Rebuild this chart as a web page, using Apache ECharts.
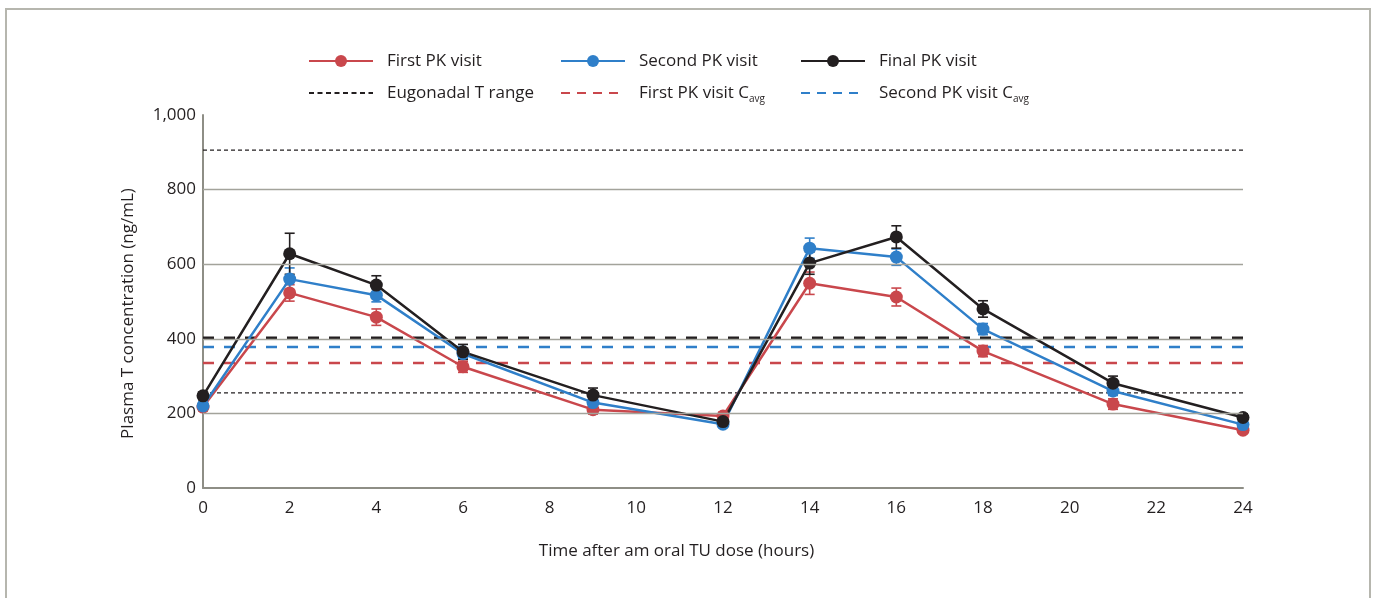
<!DOCTYPE html>
<html>
<head>
<meta charset="utf-8">
<script src="https://cdn.jsdelivr.net/npm/echarts@6/dist/echarts.min.js"></script>
<style>
html,body{margin:0;padding:0;background:#fff;}
#chart{width:1373px;height:598px;}
</style>
</head>
<body>
<div id="chart"></div>
<script>
// ---- data ----
var hours = [0, 2, 4, 6, 9, 12, 14, 16, 18, 21, 24];
var firstVisit  = [217, 523, 458, 325, 210, 193, 549, 512, 367, 225, 155];
var secondVisit = [220, 560, 517, 360, 229, 171, 643, 619, 426, 260, 170];
var finalVisit  = [247, 628, 544, 365, 249, 178, 603, 673, 480, 281, 189];
var firstErr  = [10, 22, 22, 15, 12, 10, 30, 24, 15, 14, 8];
var secondErr = [10, 30, 18, 12, 10, 8, 27, 22, 15, 12, 8];
var finalErr  = [10, 55, 25, 20, 19, 10, 30, 30, 22, 19, 10];
var eugonadalRange = [255, 906];
var firstCavg = 335;
var secondCavg = 378;
var finalCavg = 403;
var yTicks = [0, 200, 400, 600, 800, 1000];
var gridValues = [200, 400, 600, 800];

var RED = '#c9474c', BLUE = '#2f7fc9', BLACK = '#231f20';
var FONT = 'Open Sans';
var FS = 17;

function pts(vals){ return hours.map(function(h,i){ return [h, vals[i]]; }); }
function errPts(vals, errs){ return hours.map(function(h,i){ return [h, vals[i]-errs[i], vals[i]+errs[i]]; }); }
function hline(v){ return [[0, v], [24, v]]; }

function errSeries(name, vals, errs, color){
  return {
    type: 'custom', name: name + ' err', silent: true, z: 3,
    data: errPts(vals, errs),
    renderItem: function(params, api){
      var x = api.value(0);
      var lo = api.coord([x, api.value(1)]);
      var hi = api.coord([x, api.value(2)]);
      var w = 5;
      var st = {stroke: color, lineWidth: 1.6};
      return {type:'group', children:[
        {type:'line', shape:{x1:lo[0], y1:lo[1], x2:hi[0], y2:hi[1]}, style: st},
        {type:'line', shape:{x1:lo[0]-w, y1:lo[1], x2:lo[0]+w, y2:lo[1]}, style: st},
        {type:'line', shape:{x1:hi[0]-w, y1:hi[1], x2:hi[0]+w, y2:hi[1]}, style: st}
      ]};
    }
  };
}
function dataSeries(name, vals, color){
  return {
    type: 'line', name: name, data: pts(vals), z: 4,
    symbol: 'circle', symbolSize: 13,
    lineStyle: {color: color, width: 2.5},
    itemStyle: {color: color},
    emphasis: {disabled: true}
  };
}
function refSeries(name, v, color, width, dash){
  return {
    type: 'line', name: name, data: hline(v), z: 2, silent: true,
    symbol: 'none', showSymbol: false,
    lineStyle: {color: color, width: width, type: dash},
    itemStyle: {color: color},
    emphasis: {disabled: true}
  };
}

var legendText = {fontFamily: FONT, fontSize: FS, color: '#231f20', lineHeight: 18, padding: [0, 0, 0, 9],
  rich: {
    t: {fontFamily: FONT, fontSize: FS, color: '#231f20'},
    s: {fontFamily: FONT, fontSize: 10, color: '#231f20', padding: [12, 0, 0, 0]}
  }};
function fmt(name){
  if (name.indexOf('Cavg') >= 0) return '{t|' + name.replace('Cavg', 'C') + '}{s|avg}';
  return name;
}
function legendCol(left, names, dash){
  return {
    orient: 'vertical', left: left, top: 52, itemGap: 14,
    itemWidth: 64, itemHeight: 15, formatter: fmt,
    data: [names[0], {name: names[1], itemStyle: {opacity: 0}, lineStyle: {type: dash}}],
    textStyle: legendText, padding: 0, selectedMode: false
  };
}

var option = {
  backgroundColor: '#fff',
  animation: false,
  graphic: [{
    type: 'rect', shape: {x: 6, y: 9, width: 1364, height: 600},
    style: {fill: 'none', stroke: '#b6b6ae', lineWidth: 2}, silent: true
  }],
  legend: [
    legendCol(308, ['First PK visit', 'Eugonadal T range'], [5, 3.5]),
    legendCol(560, ['Second PK visit', 'First PK visit Cavg'], [9, 7]),
    legendCol(800, ['Final PK visit', 'Second PK visit Cavg'], [9, 7])
  ],
  grid: {left: 203, right: 130, top: 115, bottom: 110, containLabel: false},
  xAxis: {
    type: 'value', min: 0, max: 24, interval: 2,
    name: 'Time after am oral TU dose (hours)', nameLocation: 'middle', nameGap: 55,
    nameTextStyle: {fontFamily: FONT, fontSize: FS, color: '#231f20', padding: [0, 93, 0, 0]},
    axisLine: {lineStyle: {color: '#8e8e86', width: 2}},
    axisTick: {show: false},
    axisLabel: {fontFamily: FONT, fontSize: FS, color: '#231f20', margin: 12},
    splitLine: {show: false}
  },
  yAxis: {
    type: 'value', min: 0, max: 1000, interval: 200,
    name: 'Plasma T concentration (ng/mL)', nameLocation: 'middle', nameGap: 66,
    nameTextStyle: {fontFamily: FONT, fontSize: FS, color: '#231f20', padding: [0, 24, 0, 0]},
    axisLine: {show: true, lineStyle: {color: '#8e8e86', width: 2}},
    axisTick: {show: false},
    axisLabel: {fontFamily: FONT, fontSize: FS, color: '#231f20', margin: 7,
      formatter: function(v){ return yTicks.indexOf(v) >= 0 ? v.toLocaleString('en-US') : ''; }},
    splitLine: {show: false}
  },
  series: [
    {
      type: 'line', name: 'grid', data: [], silent: true, z: 1,
      markLine: {
        silent: true, symbol: 'none', label: {show: false},
        lineStyle: {color: '#a3a39b', width: 1.3, type: 'solid'},
        emphasis: {disabled: true},
        data: gridValues.map(function(v){ return {yAxis: v}; })
      }
    },
    refSeries('Eugonadal T range', eugonadalRange[1], BLACK, 1.3, [4, 3]),
    refSeries('Eugonadal T range', eugonadalRange[0], BLACK, 1.3, [4, 3]),
    refSeries('Final PK visit Cavg', finalCavg, BLACK, 2.6, [11, 10]),
    refSeries('Second PK visit Cavg', secondCavg, BLUE, 2.6, [11, 10]),
    refSeries('First PK visit Cavg', firstCavg, RED, 2.6, [11, 10]),
    errSeries('First PK visit', firstVisit, firstErr, RED),
    dataSeries('First PK visit', firstVisit, RED),
    errSeries('Second PK visit', secondVisit, secondErr, BLUE),
    dataSeries('Second PK visit', secondVisit, BLUE),
    errSeries('Final PK visit', finalVisit, finalErr, BLACK),
    dataSeries('Final PK visit', finalVisit, BLACK)
  ]
};

var chart = echarts.init(document.getElementById('chart'));
chart.setOption(option);
</script>
</body>
</html>
